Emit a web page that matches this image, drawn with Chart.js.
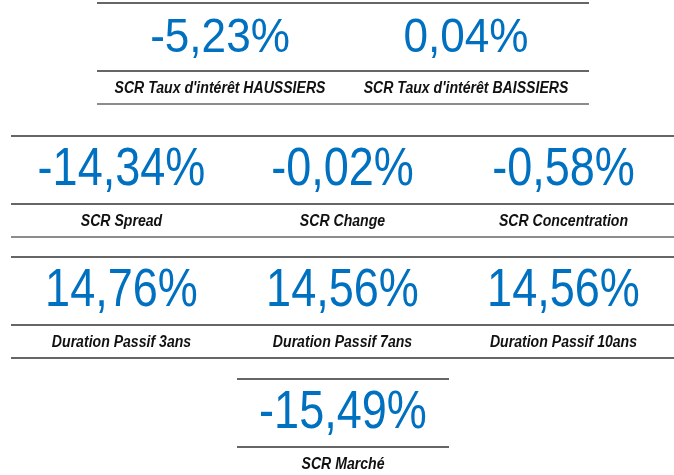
<!DOCTYPE html>
<html>
<head>
<meta charset="utf-8">
<script src="https://cdn.jsdelivr.net/npm/chart.js@4"></script>
<style>
  body { margin: 0; background: #fff; }
  canvas { display: block; }
</style>
</head>
<body>
<canvas id="kpiChart" width="674" height="475"></canvas>
<script>
// valeurs des indicateurs (en %)
var tauxLabels = ["SCR Taux d'intérêt HAUSSIERS", "SCR Taux d'intérêt BAISSIERS"];
var tauxValues = [-5.23, 0.04];

var risqueLabels = ['SCR Spread', 'SCR Change', 'SCR Concentration'];
var risqueValues = [-14.34, -0.02, -0.58];

var durationLabels = ['Duration Passif 3ans', 'Duration Passif 7ans', 'Duration Passif 10ans'];
var durationValues = [14.76, 14.56, 14.56];

var marcheLabels = ['SCR Marché'];
var marcheValues = [-15.49];

// mise en page des blocs (haut, gauche, droite en px)
var rows = [
    { labels: tauxLabels, values: tauxValues, top: 3, left: 97, right: 589, valueSize: 49, valueScale: 0.9, labelSize: 16, bottom: '#8c8c8c', bottomWidth: 2.2 },
    { labels: risqueLabels, values: risqueValues, top: 136, left: 11, right: 674, valueSize: 53, valueScale: 0.85, labelSize: 16, bottom: '#8c8c8c', bottomWidth: 2.2 },
    { labels: durationLabels, values: durationValues, top: 257, left: 11, right: 674, valueSize: 53, valueScale: 0.85, labelSize: 16, bottom: '#333', bottomWidth: 1.5 },
    { labels: marcheLabels, values: marcheValues, top: 379, left: 237, right: 449, valueSize: 53, valueScale: 0.85, labelSize: 16, bottom: '#333', bottomWidth: 1.5 }
];

function formatPct(v) {
    return v.toFixed(2).replace('.', ',') + '%';
}

var datasets = rows.map(function (row) {
    var w = (row.right - row.left) / row.values.length;
    return {
        data: row.values.map(function (v, i) {
            return { x: row.left + w * (i + 0.5), y: row.top, v: v };
        }),
        pointRadius: 0
    };
});

var tilesPlugin = {
    id: 'tiles',
    afterDatasetsDraw: function (chart) {
        var ctx = chart.ctx;
        var xs = chart.scales.x, ys = chart.scales.y;

        function hline(y, x1, x2, color, width) {
            ctx.save();
            ctx.strokeStyle = color;
            ctx.lineWidth = width;
            ctx.beginPath();
            ctx.moveTo(x1, y);
            ctx.lineTo(x2, y);
            ctx.stroke();
            ctx.restore();
        }

        function squeezeText(text, x, y, font, color, sx) {
            ctx.save();
            ctx.font = font;
            ctx.fillStyle = color;
            ctx.textAlign = 'center';
            ctx.textBaseline = 'alphabetic';
            ctx.translate(x, y);
            ctx.scale(sx, 1);
            ctx.fillText(text, 0, 0);
            ctx.restore();
        }

        rows.forEach(function (row, r) {
            var top = ys.getPixelForValue(row.top);
            var x1 = xs.getPixelForValue(row.left);
            var x2 = xs.getPixelForValue(row.right);
            hline(top, x1, x2, '#333', 1.5);
            hline(top + 68, x1, x2, '#333', 1.5);
            hline(top + 101, x1, x2, row.bottom, row.bottomWidth);

            var meta = chart.getDatasetMeta(r);
            meta.data.forEach(function (pt, i) {
                squeezeText(formatPct(row.values[i]), pt.x, top + 49,
                    row.valueSize + 'px "Liberation Sans", Arial, sans-serif', '#0070c0', row.valueScale);
                squeezeText(row.labels[i], pt.x, top + 90,
                    'italic bold ' + row.labelSize + 'px "Liberation Sans", Arial, sans-serif', '#111', 0.88);
            });
        });
    }
};

var ctx = document.getElementById('kpiChart').getContext('2d');
var chart = new Chart(ctx, {
    type: 'scatter',
    data: { datasets: datasets },
    options: {
        responsive: false,
        animation: false,
        devicePixelRatio: 1,
        layout: { padding: 0 },
        plugins: { legend: { display: false }, tooltip: { enabled: false } },
        scales: {
            x: { type: 'linear', min: 0, max: 674, display: false },
            y: { type: 'linear', min: 0, max: 475, reverse: true, display: false }
        }
    },
    plugins: [tilesPlugin]
});
</script>
</body>
</html>
